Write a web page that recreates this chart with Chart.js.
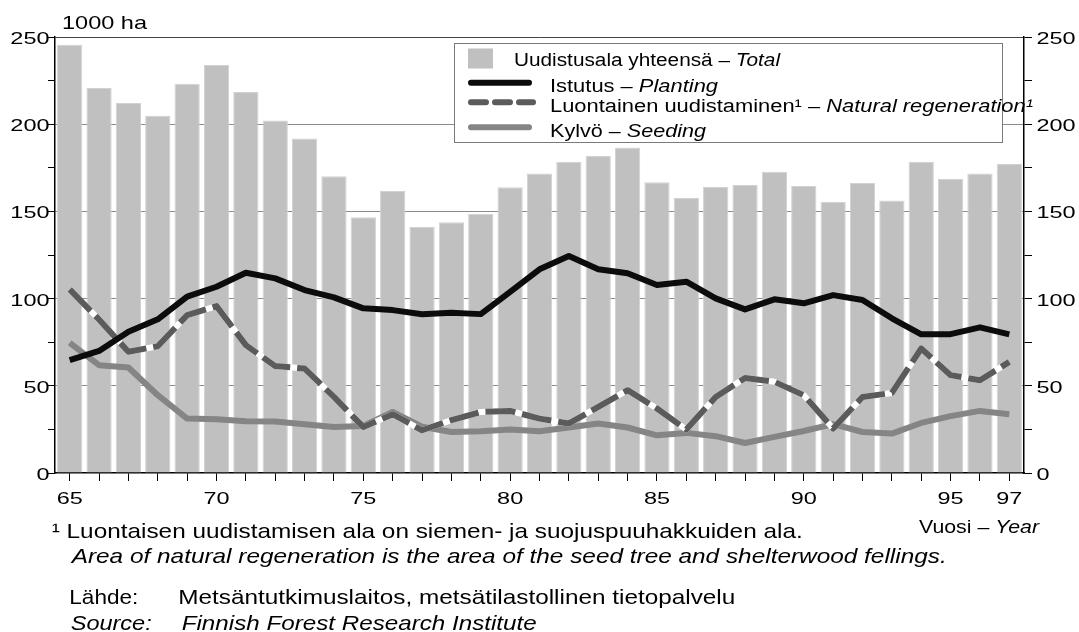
<!DOCTYPE html>
<html>
<head>
<meta charset="utf-8">
<script src="https://cdn.jsdelivr.net/npm/chart.js@4/dist/chart.umd.min.js"></script>
<style>
html,body{margin:0;padding:0;background:#fff;}
#wrap{position:relative;width:1079px;height:632px;}
canvas{display:block;}
</style>
</head>
<body>
<div id="wrap"><canvas id="c" width="1079" height="632"></canvas></div>
<script>
// ---- data ----
const years = ['65','66','67','68','69','70','71','72','73','74','75','76','77','78','79','80','81','82','83','84','85','86','87','88','89','90','91','92','93','94','95','96','97'];
const totalArea = [245.6,220.7,212.1,204.8,223.2,233.9,218.4,202.1,191.8,170.2,146.6,161.7,141.1,143.8,148.7,163.9,171.7,178.4,181.8,186.6,166.7,157.7,164.0,165.2,172.7,164.6,155.6,166.3,156.2,178.4,168.6,171.7,177.2];
const planting = [64.7,70.0,81.0,88.1,101.1,106.8,114.8,111.6,104.9,100.7,94.4,93.4,91.0,91.9,91.1,103.9,116.8,124.4,116.8,114.5,107.8,109.7,100.1,93.8,99.6,97.3,102.0,99.2,88.7,79.5,79.6,83.5,79.5];
const naturalRegen = [105.3,88.0,69.5,72.7,90.5,95.7,73.3,61.3,59.9,43.6,26.4,33.7,24.5,30.3,35.0,35.6,31.2,28.4,37.9,47.5,37.0,24.9,43.6,54.5,52.3,44.6,25.5,43.6,45.9,71.4,56.1,53.2,63.7];
const seeding = [74.6,61.8,60.5,44.6,31.2,30.8,29.7,29.5,28.0,26.4,27.0,35.0,26.5,23.5,23.9,24.9,23.9,26.1,28.4,26.1,21.6,23.0,21.1,17.2,20.7,24.1,28.0,23.5,22.6,28.7,32.6,35.6,33.7];
const yTickLabels = [0,50,100,150,200,250];
const xTickLabels = ['65','70','75','80','85','90','95','97'];

// ---- styles ----
const FONT = '"Liberation Sans", Arial, Helvetica, sans-serif';
const C_BAR = '#c0c0c0', C_PLANT = '#0c0c0c', C_NAT = '#5b5b5b', C_SEED = '#858585';

function drawRuns(c, parts, x, y, size, opt) {
  opt = opt || {};
  let total = 0;
  const widths = parts.map(p => {
    c.font = (p.i ? 'italic ' : '') + size + 'px ' + FONT;
    const w = c.measureText(p.t).width; total += w; return w;
  });
  const s = opt.width ? opt.width / total : (opt.scale || 1);
  let sx = x;
  if (opt.align === 'right') sx = x - total * s;
  else if (opt.align === 'center') sx = x - total * s / 2;
  c.save();
  c.translate(sx, y);
  c.scale(s, 1);
  c.fillStyle = opt.color || '#000';
  c.textAlign = 'left';
  c.textBaseline = 'alphabetic';
  let cx = 0;
  parts.forEach((p, k) => {
    c.font = (p.i ? 'italic ' : '') + size + 'px ' + FONT;
    c.fillText(p.t, cx, 0);
    cx += widths[k];
  });
  c.restore();
}

const decor = {
  id: 'decor',
  afterDraw(chart) {
    const c = chart.ctx, xs = chart.scales.x, ys = chart.scales.y;
    const TS = 17, TSX = 1.38;
    // y tick labels both sides
    yTickLabels.forEach(v => {
      const py = ys.getPixelForValue(v) + 7;
      drawRuns(c, [{t: String(v)}], 49.5, py, TS, {scale: TSX, align: 'right'});
      drawRuns(c, [{t: String(v)}], 1036.5, py, TS, {scale: TSX});
    });
    // x tick labels
    xTickLabels.forEach(l => {
      const px = xs.getPixelForValue(years.indexOf(l));
      drawRuns(c, [{t: l}], px, 504, TS, {scale: TSX, align: 'center'});
    });
    // unit
    drawRuns(c, [{t: '1000 ha'}], 62, 28.5, 18.5, {width: 85});
    // x title
    drawRuns(c, [{t: 'Vuosi – '}, {t: 'Year', i: true}], 919, 532.7, 18.6, {width: 120});

    // legend
    c.save();
    c.fillStyle = '#fff';
    c.fillRect(454.5, 43.5, 548, 99);
    c.strokeStyle = '#7a7a7a';
    c.lineWidth = 1;
    c.strokeRect(454.5, 43.5, 548, 99);
    c.fillStyle = C_BAR;
    c.fillRect(468, 48.5, 25, 20);
    c.lineWidth = 6;
    c.lineCap = 'round';
    c.strokeStyle = C_PLANT;
    c.beginPath(); c.moveTo(471, 82.7); c.lineTo(529, 82.7); c.stroke();
    c.strokeStyle = C_SEED;
    c.beginPath(); c.moveTo(471, 127.3); c.lineTo(529, 127.3); c.stroke();
    c.strokeStyle = C_NAT;
    c.setLineDash([15, 9]);
    c.beginPath(); c.moveTo(471, 102.3); c.lineTo(533, 102.3); c.stroke();
    c.restore();
    const LS = 18;
    drawRuns(c, [{t: 'Uudistusala yhteensä – '}, {t: 'Total', i: true}], 514, 66, LS, {width: 266});
    drawRuns(c, [{t: 'Istutus – '}, {t: 'Planting', i: true}], 550, 91.7, LS, {width: 168});
    drawRuns(c, [{t: 'Luontainen uudistaminen¹ – '}, {t: 'Natural regeneration¹', i: true}], 550, 111.7, LS, {width: 483});
    drawRuns(c, [{t: 'Kylvö – '}, {t: 'Seeding', i: true}], 550, 136.7, LS, {width: 156});

    // footnotes
    const FS = 21;
    drawRuns(c, [{t: '¹ Luontaisen uudistamisen ala on siemen- ja suojuspuuhakkuiden ala.'}], 51.7, 538.3, FS, {width: 751});
    drawRuns(c, [{t: 'Area of natural regeneration is the area of the seed tree and shelterwood fellings.', i: true}], 71.7, 563.3, FS, {width: 875});
    drawRuns(c, [{t: 'Lähde:'}], 69.3, 604, FS, {width: 69});
    drawRuns(c, [{t: 'Metsäntutkimuslaitos, metsätilastollinen tietopalvelu'}], 178.3, 604, FS, {width: 557});
    drawRuns(c, [{t: 'Source:', i: true}], 70.7, 630, FS, {width: 81});
    drawRuns(c, [{t: 'Finnish Forest Research Institute', i: true}], 181.7, 630, FS, {width: 355});
  }
};

new Chart(document.getElementById('c'), {
  type: 'bar',
  data: {
    labels: years,
    datasets: [
      {type: 'bar', label: 'Uudistusala yhteensä – Total', data: totalArea, backgroundColor: C_BAR,
       borderColor: '#d2d2d2', borderWidth: 1, barPercentage: 0.86, categoryPercentage: 1.0, order: 5},
      {type: 'line', label: 'Kylvö – Seeding', data: seeding, borderColor: C_SEED, borderWidth: 6,
       pointRadius: 0, tension: 0, borderJoinStyle: 'round', order: 4},
      {type: 'line', label: '', data: naturalRegen, borderColor: '#ffffff', borderWidth: 6,
       pointRadius: 0, tension: 0, borderJoinStyle: 'round', order: 3},
      {type: 'line', label: 'Luontainen uudistaminen¹ – Natural regeneration¹', data: naturalRegen, borderColor: C_NAT,
       borderWidth: 6, borderDash: [30, 7], pointRadius: 0, tension: 0, borderJoinStyle: 'round', order: 2},
      {type: 'line', label: 'Istutus – Planting', data: planting, borderColor: C_PLANT, borderWidth: 6,
       pointRadius: 0, tension: 0, borderJoinStyle: 'round', order: 1}
    ]
  },
  options: {
    responsive: false,
    animation: false,
    devicePixelRatio: 1,
    layout: {padding: {top: 37, left: 0, right: 0, bottom: 0}},
    plugins: {legend: {display: false}, tooltip: {enabled: false}, title: {display: false}},
    scales: {
      x: {
        offset: true,
        ticks: {display: false, autoSkip: false},
        grid: {display: true, drawOnChartArea: false, drawTicks: true, tickLength: 8, tickColor: '#000', tickWidth: 1, offset: false},
        border: {display: true, color: '#000', width: 1.5},
        afterFit(s) { s.height = 159; }
      },
      y: {
        position: 'left', min: 0, max: 250,
        ticks: {display: false, stepSize: 25},
        grid: {
          drawTicks: true, tickLength: 7, tickColor: '#000', tickWidth: 1, lineWidth: 1,
          color: (ctx) => {
            const v = ctx.tick ? ctx.tick.value : 0;
            if (v === 250) return '#444';
            if (v > 0 && v % 50 === 0) return '#8a8a8a';
            return 'rgba(0,0,0,0)';
          }
        },
        border: {display: true, color: '#000', width: 1.5},
        afterFit(s) { s.width = 55; }
      },
      y2: {
        position: 'right', min: 0, max: 250,
        ticks: {display: false, stepSize: 25},
        grid: {drawOnChartArea: false, drawTicks: true, tickLength: 8, tickColor: '#000', tickWidth: 1},
        border: {display: true, color: '#000', width: 1.5},
        afterFit(s) { s.width = 55; }
      }
    }
  },
  plugins: [decor]
});
</script>
</body>
</html>
